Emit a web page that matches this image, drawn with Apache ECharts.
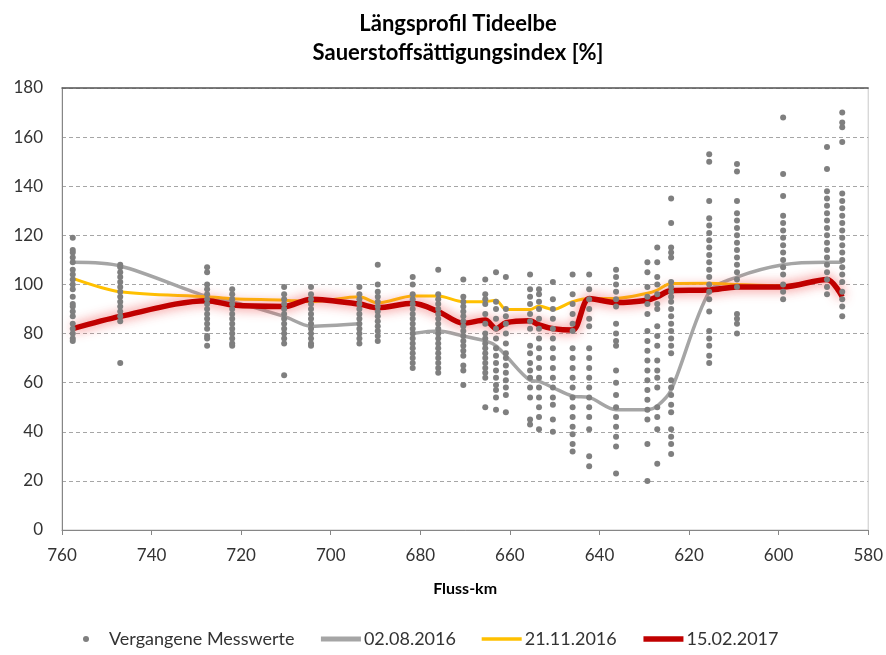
<!DOCTYPE html>
<html>
<head>
<meta charset="utf-8">
<title>Längsprofil Tideelbe</title>
<script src="https://cdn.jsdelivr.net/npm/echarts@6/dist/echarts.min.js"></script>
<style>
  html, body { margin: 0; padding: 0; background: #fff; }
  #chart { width: 886px; height: 655px; }
</style>
</head>
<body>
<div id="chart"></div>
<script>
// Messstationen (Fluss-km)
const stations = [757.6, 747, 727.6, 722, 710.4, 704.4, 693.6, 689.5, 681.7, 676, 670.4, 665.5, 663.1, 660.9,
  655.5, 653.5, 650.4, 646, 642.3, 636.3, 629.3, 627.1, 624, 615.5, 609.3, 599, 589.2, 585.8]

// vergangene Messwerte je Station
const pastValues = [
  [119, 114, 113, 111, 109, 106, 104, 102, 100, 98, 95, 92, 91, 89, 87, 84, 82, 80, 78, 77],
  [108, 107, 105, 103, 101, 99, 97, 95, 93, 91, 89, 87, 85, 68],
  [107, 105, 100, 98, 96, 94, 92, 90, 88, 86, 84, 82, 79, 78, 75],
  [98, 96, 94, 92, 90, 88, 86, 84, 82, 80, 78, 76, 75],
  [99, 96, 94, 92, 90, 88, 86, 84, 82, 80, 78, 76, 63],
  [99, 96, 94, 92, 90, 88, 86, 84, 82, 80, 78, 76, 75],
  [99, 96, 94, 92, 90, 88, 86, 84, 82, 80, 78, 76],
  [108, 100, 97, 95, 93, 91, 89, 87, 85, 83, 81, 79, 77],
  [103, 100, 96, 94, 92, 90, 88, 86, 84, 82, 80, 78, 76, 74, 72, 70, 68, 66],
  [106, 96, 94, 92, 90, 88, 86, 84, 82, 80, 78, 76, 74, 72, 70, 68, 66, 64],
  [102, 95, 93, 91, 89, 87, 85, 83, 81, 79, 77, 75, 73, 71, 67, 65, 59],
  [102, 96, 94, 92, 88, 84, 80, 78, 76, 74, 72, 70, 68, 66, 64, 62, 50],
  [105, 93, 90, 86, 82, 78, 74, 71, 68, 65, 62, 59, 57, 54, 49],
  [103, 90, 87, 84, 80, 76, 72, 70, 67, 64, 61, 58, 55, 48],
  [104, 98, 95, 92, 88, 85, 82, 75, 72, 68, 65, 62, 58, 54, 45, 43],
  [98, 96, 93, 90, 86, 82, 78, 74, 70, 66, 62, 58, 54, 50, 46, 41],
  [101, 94, 90, 86, 82, 78, 74, 70, 66, 62, 58, 54, 51, 45, 40],
  [104, 96, 92, 88, 84, 81, 74, 70, 66, 62, 58, 54, 50, 46, 42, 39, 35, 32],
  [104, 98, 94, 90, 86, 83, 74, 70, 66, 62, 58, 54, 50, 46, 41, 30, 26],
  [106, 103, 100, 97, 94, 91, 84, 80, 77, 75, 65, 60, 55, 50, 46, 42, 38, 34, 23],
  [109, 105, 99, 95, 92, 88, 81, 77, 73, 69, 65, 61, 57, 53, 49, 45, 35, 20],
  [115, 109, 103, 100, 96, 92, 90, 83, 79, 75, 69, 65, 62, 58, 50, 46, 41, 27],
  [135, 125, 115, 113, 111, 101, 99, 97, 95, 93, 90, 87, 84, 81, 78, 75, 72, 61, 58, 55, 51, 48, 41, 38, 35, 31],
  [153, 150, 134, 127, 124, 121, 118, 115, 112, 109, 106, 103, 100, 97, 94, 89, 81, 78, 75, 71, 68],
  [149, 146, 134, 129, 126, 123, 120, 117, 114, 111, 108, 105, 102, 99, 88, 86, 84, 80],
  [168, 145, 136, 128, 125, 122, 119, 116, 113, 110, 107, 104, 100, 97, 94],
  [156, 147, 138, 135, 132, 129, 126, 123, 120, 117, 114, 111, 108, 105, 102, 99, 96],
  [170, 166, 164, 158, 137, 134, 131, 128, 125, 122, 119, 116, 113, 110, 107, 104, 101, 97, 94, 91, 87]
]

// Profile (null = keine Messung)
const aug2016 = [109, 107.5, 95, 93, 87, 83, 84, null, 80, 81, 79, 77, 75, 71,
  61, 60.5, 58, 54.5, 54, 49, 49, 50.5, 57, 97, 103, 108, 109, 109]
const nov2016 = [102.5, 97, 95, 94.2, 93.6, 93, 95, 92.5, 95.3, 95.3, 93, 93, 93.6, 89.8,
  89.8, 91.2, 89.8, 93, 94.3, 94.3, 96.4, 97.7, 100.4, 100.5, 100, 99.5, 102, 95]
const feb2017 = [82, 87, 93.4, 91.6, 91, 94, 92, 90.5, 92.3, 89, 84.2, 85.5, 82, 84.4,
  85.2, 83.5, 82, 81.4, 94.3, 92.6, 93.6, 95, 97.5, 97.7, 99, 99, 102, 95]

const yTicks = [0, 20, 40, 60, 80, 100, 120, 140, 160, 180]
const xTicks = [760, 740, 720, 700, 680, 660, 640, 620, 600, 580]

const FONT = 'Lato, "Open Sans", sans-serif'

const scatterData = []
stations.forEach((km, i) => {
  pastValues[i].forEach((v) => scatterData.push([km, v]))
})

const toLine = (arr) => stations.map((km, i) => [km, arr[i] == null ? '-' : arr[i]])

const chart = echarts.init(document.getElementById('chart'))

// Legendensymbol: nur Linie, kein Punkt
const legendLine = (name, width) => ({
  name,
  itemStyle: { opacity: 0 },
  lineStyle: { width, shadowBlur: 0 },
})

const option = {
  animation: false,
  textStyle: { fontFamily: FONT },
  title: {
    text: 'Längsprofil Tideelbe\nSauerstoffsättigungsindex [%]',
    left: 453,
    textAlign: 'center',
    top: 4,
    textStyle: {
      fontFamily: FONT,
      fontSize: 22,
      fontWeight: 'bold',
      color: '#000',
      lineHeight: 29,
    },
  },
  legend: {
    left: 78,
    top: 625,
    itemWidth: 40,
    itemHeight: 6,
    itemGap: 24,
    formatter: (name) => (name === 'Vergangene Messwerte' ? '{w|' + name + '}' : name),
    textStyle: {
      fontFamily: FONT,
      fontSize: 18,
      color: '#333',
      padding: [0, 0, 0, -2],
      rich: { w: { width: 199, fontFamily: FONT, fontSize: 18, color: '#333' } },
    },
    data: [
      { name: 'Vergangene Messwerte', icon: 'circle' },
      legendLine('02.08.2016', 5),
      legendLine('21.11.2016', 3.5),
      legendLine('15.02.2017', 5.5),
    ],
  },
  grid: {
    left: 62,
    right: 16,
    top: 88,
    bottom: 125,
    show: true,
    borderColor: '#C8C8C8',
    borderWidth: 1,
  },
  xAxis: [
    {
      type: 'value',
      min: xTicks[xTicks.length - 1],
      max: xTicks[0],
      interval: 20,
      inverse: true,
      name: 'Fluss-km',
      nameLocation: 'middle',
      nameGap: 51,
      nameTextStyle: { fontFamily: FONT, fontSize: 16, fontWeight: 'bold', color: '#000' },
      axisLine: { show: true, lineStyle: { color: '#868686', width: 1 } },
      axisTick: { show: true, length: 5, lineStyle: { color: '#868686' } },
      axisLabel: { fontFamily: FONT, fontSize: 17, color: '#333', margin: 17 },
      splitLine: { show: false },
    },
    {
      type: 'value',
      position: 'top',
      min: xTicks[xTicks.length - 1],
      max: xTicks[0],
      inverse: true,
      axisLine: { show: true, lineStyle: { color: '#595959', width: 1.5 } },
      axisTick: { show: false },
      axisLabel: { show: false },
      splitLine: { show: false },
    },
  ],
  yAxis: {
    type: 'value',
    min: yTicks[0],
    max: yTicks[yTicks.length - 1],
    interval: 20,
    axisLine: { show: true, lineStyle: { color: '#868686', width: 1 } },
    axisTick: { show: false },
    axisLabel: { fontFamily: FONT, fontSize: 17, color: '#333', margin: 19 },
    splitLine: {
      show: true,
      lineStyle: { color: '#A6A6A6', type: [4, 3], width: 1 },
    },
  },
  series: [
    {
      name: 'Vergangene Messwerte',
      type: 'scatter',
      symbol: 'circle',
      symbolSize: 6,
      itemStyle: { color: '#7F7F7F', opacity: 1 },
      z: 6,
      data: scatterData,
    },
    {
      name: '02.08.2016',
      type: 'line',
      smooth: 0.3,
      symbol: 'none',
      connectNulls: false,
      itemStyle: { color: '#A5A5A5' },
      lineStyle: { width: 3.5, color: '#A5A5A5' },
      z: 3,
      data: toLine(aug2016),
    },
    {
      name: '21.11.2016',
      type: 'line',
      smooth: 0.3,
      symbol: 'none',
      itemStyle: { color: '#FFC000' },
      lineStyle: { width: 3, color: '#FFC000' },
      z: 4,
      data: toLine(nov2016),
    },
    {
      name: '15.02.2017',
      type: 'line',
      smooth: 0.3,
      symbol: 'none',
      itemStyle: { color: '#C00000' },
      lineStyle: {
        width: 5.5,
        color: '#C00000',
        shadowColor: 'rgba(240, 80, 80, 0.9)',
        shadowBlur: 12,
      },
      z: 5,
      data: toLine(feb2017),
    },
  ],
}

chart.setOption(option)
</script>
</body>
</html>
